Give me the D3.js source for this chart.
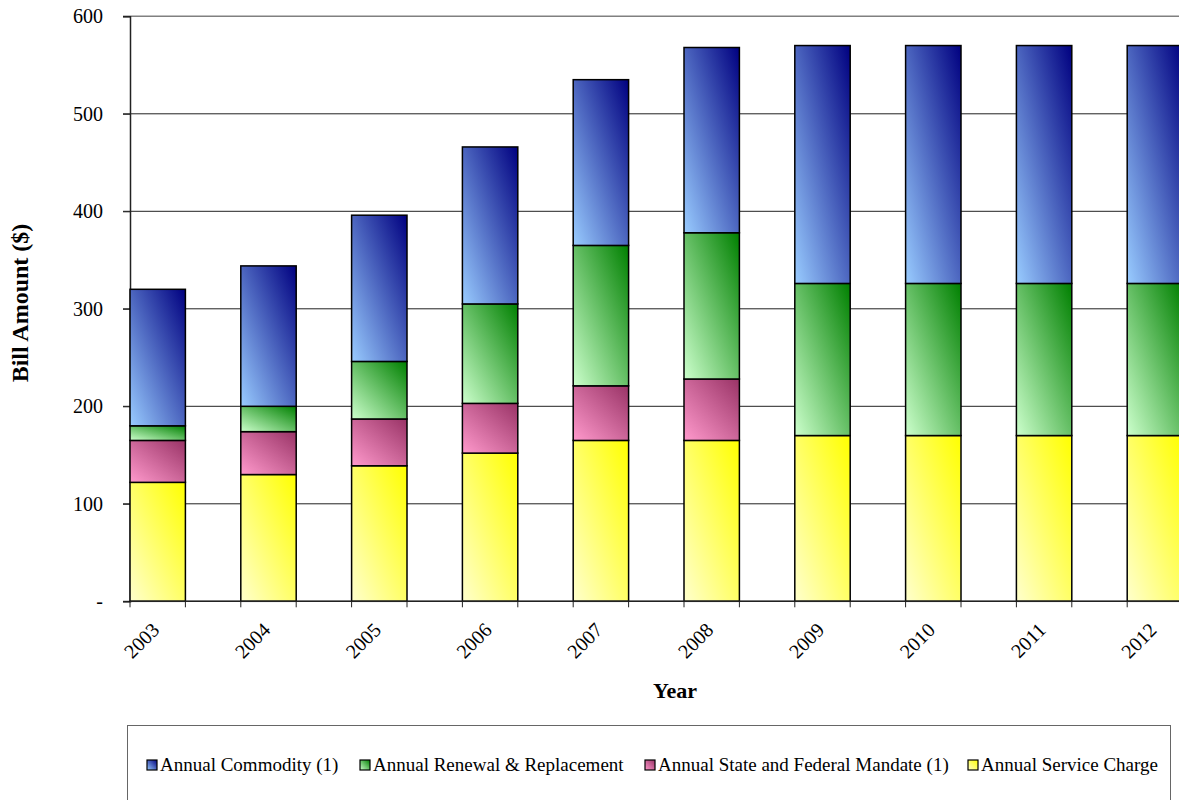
<!DOCTYPE html>
<html>
<head>
<meta charset="utf-8">
<script src="https://cdn.jsdelivr.net/npm/d3@7"></script>
<style>
  body { margin: 0; background: #fff; }
  svg { display: block; font-family: "Liberation Serif", "Times New Roman", serif; }
</style>
</head>
<body>
<svg id="chart"></svg>
<script>
// data
const years = ['2003', '2004', '2005', '2006', '2007', '2008', '2009', '2010', '2011', '2012'];
const serviceCharge = [122, 130, 139, 152, 165, 165, 170, 170, 170, 170];
const stateFederal = [43, 44, 48, 51, 56, 63, 0, 0, 0, 0];
const renewal = [15, 26, 59, 102, 144, 150, 156, 156, 156, 156];
const commodity = [140, 144, 150, 161, 170, 190, 244, 244, 244, 244];
const yTicks = [0, 100, 200, 300, 400, 500, 600];

// stacking order bottom -> top
const seriesInfo = [
  {key: 'service', name: 'Annual Service Charge', values: serviceCharge, light: '#ffffcc', dark: '#ffff00'},
  {key: 'mandate', name: 'Annual State and Federal Mandate (1)', values: stateFederal, light: '#ff99cc', dark: '#993366'},
  {key: 'renewal', name: 'Annual Renewal & Replacement', values: renewal, light: '#ccffcc', dark: '#008000'},
  {key: 'commodity', name: 'Annual Commodity (1)', values: commodity, light: '#99ccff', dark: '#000080'}
];
const legendOrder = ['commodity', 'renewal', 'mandate', 'service'];

const W = 1179, H = 800;
const svg = d3.select('#chart').attr('width', W).attr('height', H);

const defs = svg.append('defs');
seriesInfo.forEach(s => {
  const g = defs.append('linearGradient')
      .attr('id', 'grad-' + s.key)
      .attr('x1', 0).attr('y1', 1).attr('x2', 1).attr('y2', 0);
  g.append('stop').attr('offset', '0%').attr('stop-color', s.light);
  g.append('stop').attr('offset', '100%').attr('stop-color', s.dark);
});

const plot = {left: 130, top: 16.3, bottom: 601.3};

const table = years.map((y, i) => {
  const row = {year: y};
  seriesInfo.forEach(s => row[s.key] = s.values[i]);
  return row;
});
const stacked = d3.stack().keys(seriesInfo.map(s => s.key))(table);

const x = d3.scaleBand()
    .domain(years)
    .range([plot.left, plot.left + 110.8 * years.length])
    .padding(0);
const barW = x.bandwidth() / 2;

const y = d3.scaleLinear()
    .domain([0, 600])
    .range([plot.bottom, plot.top]);

// gridlines
svg.append('g')
    .selectAll('line')
    .data(yTicks)
    .join('line')
    .attr('x1', plot.left - 7)
    .attr('x2', W)
    .attr('y1', d => y(d))
    .attr('y2', d => y(d))
    .attr('stroke', d => d === 600 ? '#808080' : '#222')
    .attr('stroke-width', d => d === 600 ? 1.5 : 1);

// y axis
const yAxis = d3.axisLeft(y)
    .tickValues(yTicks)
    .tickSize(7)
    .tickPadding(20)
    .tickFormat(d => d === 0 ? '-' : d);
const yAxisG = svg.append('g')
    .attr('transform', `translate(${plot.left},0)`)
    .call(yAxis);
yAxisG.attr('font-family', null);
yAxisG.select('.domain').attr('stroke', '#222').attr('stroke-width', 1.5);
yAxisG.selectAll('.tick line').attr('stroke', '#222');
yAxisG.selectAll('.tick text')
    .attr('font-size', 20)
    .attr('fill', '#000');

// bars
svg.append('g')
  .selectAll('g')
  .data(stacked)
  .join('g')
    .attr('fill', d => `url(#grad-${d.key})`)
  .selectAll('rect')
  .data(d => d.filter(p => p[1] - p[0] > 0))
  .join('rect')
    .attr('x', d => x(d.data.year))
    .attr('width', barW)
    .attr('y', d => y(d[1]))
    .attr('height', d => y(d[0]) - y(d[1]))
    .attr('stroke', '#000')
    .attr('stroke-width', 1.5);

// x axis line with ticks at every bar edge
const xAxisG = svg.append('g');
xAxisG.append('line')
    .attr('x1', plot.left).attr('x2', W)
    .attr('y1', plot.bottom).attr('y2', plot.bottom)
    .attr('stroke', '#222').attr('stroke-width', 1.5);
const edges = years.flatMap(yr => [x(yr), x(yr) + barW]);
xAxisG.selectAll('.xtick')
    .data(edges)
    .join('line')
    .attr('class', 'xtick')
    .attr('x1', d => d).attr('x2', d => d)
    .attr('y1', plot.bottom).attr('y2', plot.bottom + 6)
    .attr('stroke', '#222');

xAxisG.selectAll('.xlabel')
    .data(years)
    .join('text')
    .attr('class', 'xlabel')
    .attr('transform', d => `translate(${x(d) + barW / 2 - 2},${plot.bottom + 25}) rotate(-45)`)
    .attr('text-anchor', 'end')
    .attr('dy', '0.35em')
    .attr('font-size', 20)
    .text(d => d);

// axis titles
svg.append('text')
    .attr('x', 675).attr('y', 698)
    .attr('text-anchor', 'middle')
    .attr('font-size', 22)
    .attr('font-weight', 'bold')
    .text('Year');

svg.append('text')
    .attr('transform', 'translate(28,303) rotate(-90)')
    .attr('text-anchor', 'middle')
    .attr('font-size', 24)
    .attr('font-weight', 'bold')
    .text('Bill Amount ($)');

// legend
svg.append('rect')
    .attr('x', 127.5).attr('y', 725.5)
    .attr('width', 1043).attr('height', 100)
    .attr('fill', '#fff')
    .attr('stroke', '#666');

const legendX = [147, 360, 645, 968];
const legendG = svg.append('g');
legendOrder.forEach((k, i) => {
  const s = seriesInfo.find(d => d.key === k);
  const item = legendG.append('g').attr('transform', `translate(${legendX[i]},771)`);
  item.append('rect')
      .attr('x', 0).attr('y', -11)
      .attr('width', 10).attr('height', 10)
      .attr('fill', `url(#grad-${k})`)
      .attr('stroke', '#000')
      .attr('stroke-width', 1.2);
  item.append('text')
      .attr('x', 13).attr('y', 0)
      .attr('font-size', 19)
      .text(s.name);
});
</script>
</body>
</html>
